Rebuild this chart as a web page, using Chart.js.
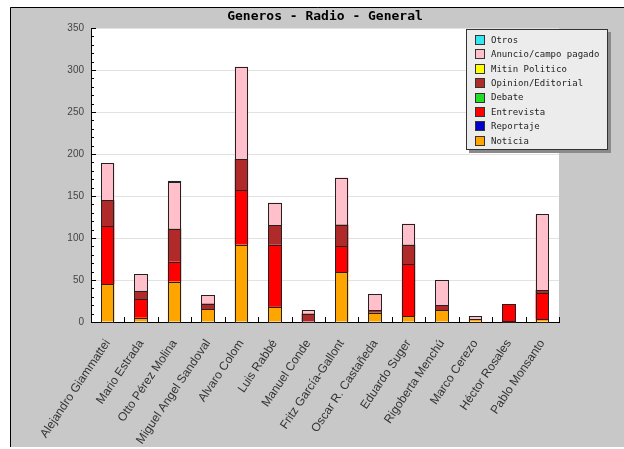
<!DOCTYPE html>
<html lang="es">
<head>
  <meta charset="UTF-8" />
  <title>Generos - Radio - General</title>
  <script src="https://cdn.jsdelivr.net/npm/chart.js"></script>
  <style>
    html, body { margin: 0; padding: 0; background: #fff; }
    #wrap { width: 624px; height: 449px; }
  </style>
</head>
<body>
  <div id="wrap"><canvas id="generosChart" width="624" height="449"></canvas></div>

  <script>
    // Candidatos
    const candidatos = ['Alejandro Giammattei', 'Mario Estrada', 'Otto Pérez Molina', 'Miguel Angel Sandoval',
      'Alvaro Colom', 'Luis Rabbé', 'Manuel Conde', 'Fritz García-Gallont', 'Oscar R. Castañeda',
      'Eduardo Suger', 'Rigoberta Menchú', 'Marco Cerezo', 'Héctor Rosales', 'Pablo Monsanto'];

    // Valores por género (de abajo hacia arriba en la pila)
    const noticia    = [45, 5, 48, 15, 92, 18, 0, 59, 11, 7, 14, 3, 1, 3];
    const reportaje  = [0, 0, 0, 0, 0, 0, 0, 0, 0, 0, 0, 0, 0, 0];
    const entrevista = [69, 22, 24, 0, 65, 74, 0, 31, 0, 62, 0, 0, 20, 31];
    const debate     = [0, 0, 0, 0, 0, 0, 0, 0, 0, 0, 0, 0, 0, 0];
    const opinion    = [31, 10, 39, 7, 37, 23, 10, 26, 3, 23, 6, 0, 0, 4];
    const mitin      = [0, 0, 0, 0, 0, 0, 0, 0, 0, 0, 0, 0, 0, 0];
    const anuncio    = [44, 20, 56, 10, 110, 27, 4, 56, 19, 25, 30, 4, 0, 90];
    const otros      = [0, 0, 1, 0, 0, 0, 0, 0, 0, 0, 0, 0, 0, 0];

    const yMax = 350;
    const yStep = 10;
    const yLabelStep = 50;

    const series = [
      { label: 'Noticia', data: noticia, color: '#FFA500' },
      { label: 'Reportaje', data: reportaje, color: '#0000CC' },
      { label: 'Entrevista', data: entrevista, color: '#FF0000' },
      { label: 'Debate', data: debate, color: '#22DD22' },
      { label: 'Opinion/Editorial', data: opinion, color: '#B02A2A' },
      { label: 'Mitin Politico', data: mitin, color: '#FFFF00' },
      { label: 'Anuncio/campo pagado', data: anuncio, color: '#FFC0CB' },
      { label: 'Otros', data: otros, color: '#33E6F0' }
    ];

    // Fondo gris con marco, area blanca y titulo
    const fondo = {
      id: 'fondo',
      beforeDraw(chart) {
        const { ctx, chartArea: a, width, height } = chart;
        ctx.save();
        ctx.fillStyle = '#fff';
        ctx.fillRect(0, 0, width, height);
        ctx.fillStyle = '#c8c8c8';
        ctx.fillRect(10, 7, width - 10, height - 9);
        ctx.strokeStyle = '#000';
        ctx.lineWidth = 1;
        ctx.beginPath();
        ctx.moveTo(width, 7.5); ctx.lineTo(10.5, 7.5); ctx.lineTo(10.5, height - 2);
        ctx.stroke();
        ctx.fillStyle = '#fff';
        ctx.fillRect(a.left, a.top, a.right - a.left, a.bottom - a.top);
        ctx.fillStyle = '#000';
        ctx.font = 'bold 13px "DejaVu Sans Mono"';
        ctx.textAlign = 'center';
        ctx.textBaseline = 'middle';
        ctx.fillText('Generos - Radio - General', (a.left + a.right) / 2, 17);
        ctx.restore();
      }
    };

    // Bordes nitidos de cada segmento, a partir de los elementos de Chart.js
    const bordes = {
      id: 'bordes',
      afterDatasetsDraw(chart) {
        const ctx = chart.ctx;
        ctx.save();
        ctx.strokeStyle = '#222';
        ctx.lineWidth = 1;
        chart.data.datasets.forEach((ds, i) => {
          chart.getDatasetMeta(i).data.forEach(bar => {
            if (bar.skip || isNaN(bar.y)) return;
            const l = Math.round(bar.x - bar.width / 2), r = Math.round(bar.x + bar.width / 2);
            const t = Math.round(Math.min(bar.y, bar.base)), b = Math.round(Math.max(bar.y, bar.base));
            if (b - t < 1) return;
            ctx.strokeRect(l + 0.5, t + 0.5, r - l - 1, b - t);
          });
        });
        ctx.restore();
      }
    };

    // Marcas interiores de los ejes y leyenda
    const extras = {
      id: 'extras',
      afterDraw(chart) {
        const { ctx, chartArea: a } = chart;
        const x = chart.scales.x, y = chart.scales.y;
        ctx.save();
        ctx.strokeStyle = '#000';
        ctx.lineWidth = 1;
        ctx.beginPath();
        y.ticks.forEach(t => {
          const py = Math.round(y.getPixelForValue(t.value)) + 0.5;
          const len = t.value % yLabelStep === 0 ? 5 : 3;
          ctx.moveTo(a.left, py); ctx.lineTo(a.left + len, py);
        });
        for (let i = 0; i <= candidatos.length; i++) {
          const px = Math.round(x.getPixelForValue(i - 0.5)) + 0.5;
          ctx.moveTo(px, a.bottom); ctx.lineTo(px, a.bottom - 5);
        }
        ctx.stroke();

        // Leyenda
        const bx = 466, by = 29, bw = 142, bh = 121;
        ctx.fillStyle = '#8a8a8a';
        ctx.fillRect(bx + 3, by + 3, bw, bh);
        ctx.fillStyle = '#ececec';
        ctx.fillRect(bx, by, bw, bh);
        ctx.strokeStyle = '#333';
        ctx.strokeRect(bx + 0.5, by + 0.5, bw - 1, bh - 1);
        ctx.font = '9px "DejaVu Sans Mono"';
        ctx.textAlign = 'left';
        ctx.textBaseline = 'middle';
        const items = chart.data.datasets.slice().reverse();
        items.forEach((ds, i) => {
          const cy = by + 11 + i * 14.4;
          ctx.fillStyle = ds.backgroundColor;
          ctx.fillRect(476, Math.round(cy - 4), 8, 8);
          ctx.strokeStyle = '#333';
          ctx.strokeRect(475.5, Math.round(cy - 4) - 0.5, 9, 9);
          ctx.fillStyle = '#222';
          ctx.fillText(ds.label, 491, cy + 0.5);
        });
        ctx.restore();
      }
    };

    new Chart(document.getElementById('generosChart'), {
      type: 'bar',
      data: {
        labels: candidatos,
        datasets: series.map(s => ({
          label: s.label,
          data: s.data.map(v => v === 0 ? null : v),
          backgroundColor: s.color,
          borderWidth: 0,
          categoryPercentage: 1,
          barPercentage: 0.4
        }))
      },
      options: {
        responsive: false,
        animation: false,
        devicePixelRatio: 1,
        layout: { padding: { left: 11, right: 65, top: 28, bottom: 0 } },
        plugins: { legend: { display: false }, tooltip: { enabled: false } },
        scales: {
          x: {
            stacked: true,
            offset: true,
            afterFit: s => { s.height = 127; },
            grid: { display: false },
            border: { display: true, color: '#000' },
            ticks: {
              autoSkip: false,
              minRotation: 56,
              maxRotation: 56,
              padding: 7,
              color: '#333',
              font: { family: '"Liberation Sans", Arial', size: 12 }
            }
          },
          y: {
            stacked: true,
            min: 0,
            max: yMax,
            afterFit: s => { s.width = 80; },
            grid: {
              drawTicks: false,
              color: c => (c.tick && c.tick.value % yLabelStep === 0 && c.tick.value > 0) ? '#e2e2e2' : 'rgba(0,0,0,0)'
            },
            border: { display: true, color: '#000' },
            ticks: {
              stepSize: yStep,
              autoSkip: false,
              padding: 7,
              color: '#444',
              font: { family: '"Liberation Sans", Arial', size: 10 },
              callback: v => v % yLabelStep === 0 ? v : ''
            }
          }
        }
      },
      plugins: [fondo, bordes, extras]
    });
  </script>
</body>
</html>
